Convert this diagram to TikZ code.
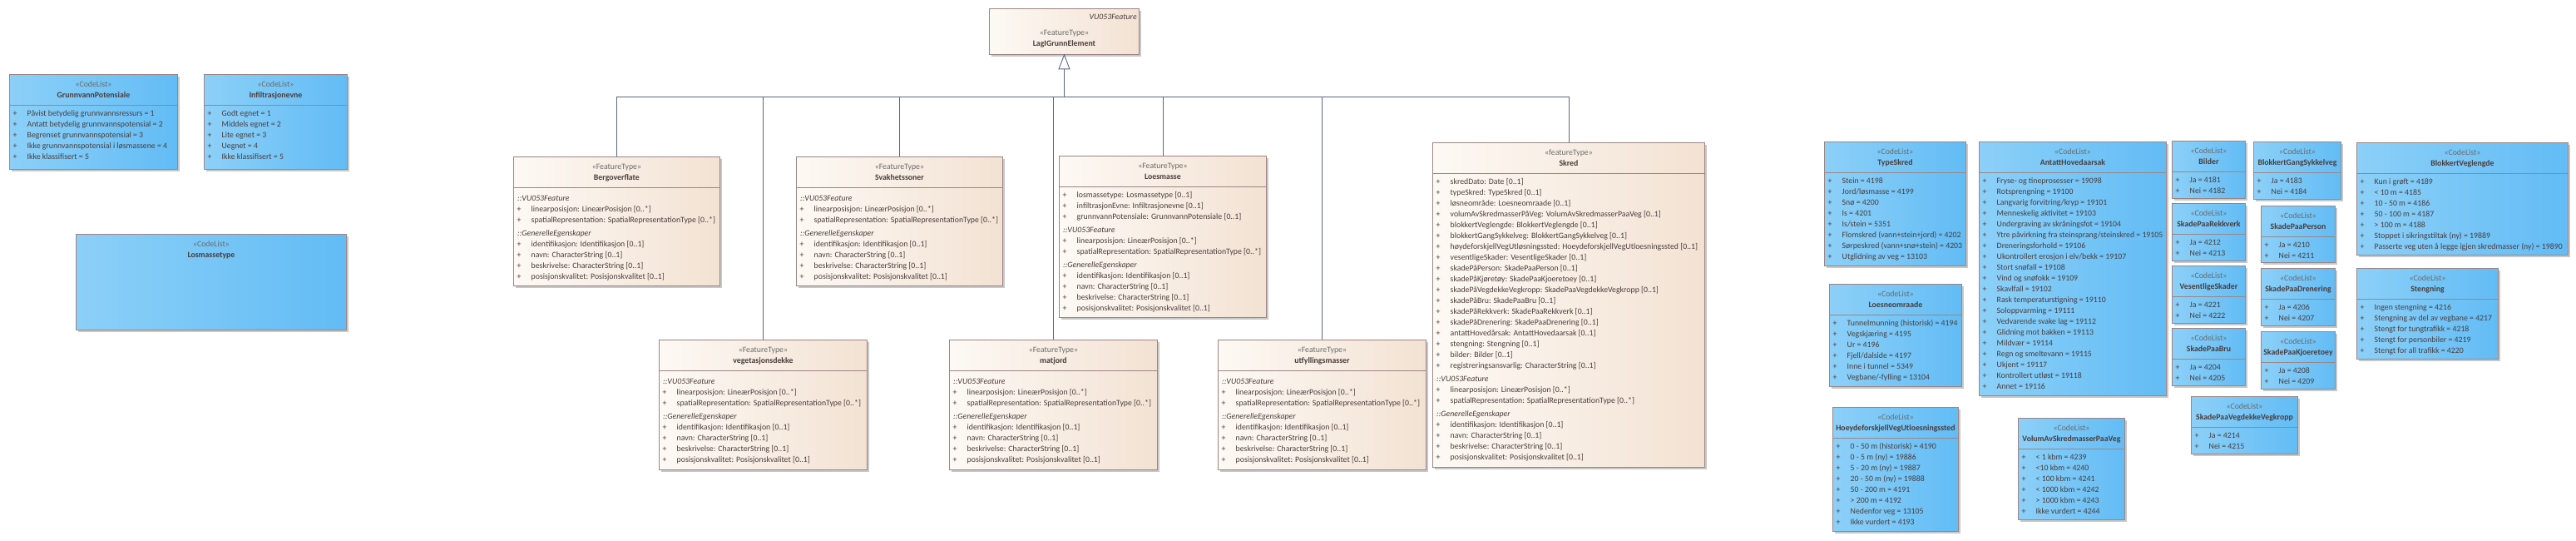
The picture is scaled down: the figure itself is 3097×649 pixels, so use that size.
\documentclass[tikz,border=0pt]{standalone}
\usepackage{fontspec}
\setmainfont{Carlito}
\usetikzlibrary{shadows}
\definecolor{ftL}{HTML}{FDF9F4}
\definecolor{ftR}{HTML}{F3E2D3}
\definecolor{clL}{HTML}{8CD0F8}
\definecolor{clR}{HTML}{62BCF5}
\definecolor{bord}{HTML}{9C8585}
\definecolor{conn}{HTML}{5A6785}
\definecolor{txt}{HTML}{4A3C3C}
\definecolor{stereo}{HTML}{6A6A6A}
\definecolor{shad}{HTML}{C8C8C8}
\tikzset{
  boxbase/.style={draw=bord, line width=0.9pt, inner sep=0pt,
    general shadow={fill=shad, shadow xshift=3pt, shadow yshift=-3pt}},
  ftbox/.style={boxbase, left color=ftL, right color=ftR},
  clbox/.style={boxbase, left color=clL, right color=clR},
  sttext/.style={inner sep=0pt, text=stereo, font=\fontsize{9.8}{13}\selectfont},
  nmtext/.style={inner sep=0pt, text=txt, font=\fontsize{9.8}{13}\selectfont\bfseries},
  attrtext/.style={inner sep=0pt, text=txt, font=\fontsize{9.8}{13}\selectfont},
  sepline/.style={draw=bord, line width=0.9pt},
  genline/.style={draw=conn, line width=0.9pt},
}
\newcommand{\umlhead}[8]{%
  \node[#6, anchor=north west, minimum width=#4pt, minimum height=#5pt] (#1) at (#2,#3) {};
  \node[sttext, anchor=base] (#1-st) at ([yshift=-15.5pt]#1.north) {«#7»};
  \node[nmtext, anchor=base] (#1-nm) at ([yshift=-28.5pt]#1.north) {#8};
}
\newcommand{\umlclass}[8]{%
  \umlhead{#1}{#2}{#3}{#4}{#5}{#6}{#7}{#8}
  \draw[sepline] ([yshift=-37pt]#1.north west) -- ([yshift=-37pt]#1.north east);
}
\newcommand{\umlattrs}[2]{%
  \node[attrtext, anchor=north west] (#1-at) at ([xshift=4.5pt,yshift=-41pt]#1.north west)
    {\begin{tabular}{@{}l@{}l@{}}#2\end{tabular}};
}
\newcommand{\umlatt}[1]{\makebox[17pt][l]{+}&#1\\}
\newcommand{\umlsec}[1]{\multicolumn{2}{@{}l@{}}{\rule{0pt}{12pt}\hspace{0.5pt}\textit{#1}}\\}
\newcommand{\ftcommon}{\umlsec{::VU053Feature}%
  \umlatt{linearposisjon: LineærPosisjon [0..*]}%
  \umlatt{spatialRepresentation: SpatialRepresentationType [0..*]}%
  \umlsec{::GenerelleEgenskaper}%
  \umlatt{identifikasjon: Identifikasjon [0..1]}%
  \umlatt{navn: CharacterString [0..1]}%
  \umlatt{beskrivelse: CharacterString [0..1]}%
  \umlatt{posisjonskvalitet: Posisjonskvalitet [0..1]}}
\newcommand{\janei}[2]{\umlatt{Ja = #1}\umlatt{Nei = #2}}

\begin{document}
\begin{tikzpicture}[x=1pt,y=-1pt]
\useasboundingbox (0,0) rectangle (3097,649);
\fill[white] (0,0) rectangle (3097,649);

% ---------- left code lists
\umlclass{gp}{11}{89}{202}{114}{clbox}{CodeList}{GrunnvannPotensiale}
\umlattrs{gp}{\umlatt{Påvist betydelig grunnvannsressurs = 1}\umlatt{Antatt betydelig grunnvannspotensial = 2}\umlatt{Begrenset grunnvannspotensial = 3}\umlatt{Ikke grunnvannspotensial i løsmassene = 4}\umlatt{Ikke klassifisert = 5}}
\umlclass{ie}{245}{89}{172}{114}{clbox}{CodeList}{Infiltrasjonevne}
\umlattrs{ie}{\umlatt{Godt egnet = 1}\umlatt{Middels egnet = 2}\umlatt{Lite egnet = 3}\umlatt{Uegnet = 4}\umlatt{Ikke klassifisert = 5}}
\umlhead{lt}{91}{281}{325}{115}{clbox}{CodeList}{Losmassetype}

% ---------- super class
\node[ftbox, anchor=north west, minimum width=180pt, minimum height=55pt] (lag) at (1189,10) {};
\node[attrtext, anchor=base east] (lag-tag) at ([xshift=-3pt,yshift=-13pt]lag.north east) {\textit{VU053Feature}};
\node[sttext, anchor=base] (lag-st) at ([yshift=-32pt]lag.north) {«FeatureType»};
\node[nmtext, anchor=base] (lag-nm) at ([yshift=-45pt]lag.north) {LagIGrunnElement};

% ---------- feature types
\umlclass{berg}{617}{188}{248}{155}{ftbox}{FeatureType}{Bergoverflate}
\umlattrs{berg}{\ftcommon}
\umlclass{svak}{957}{188}{248}{155}{ftbox}{FeatureType}{Svakhetssoner}
\umlattrs{svak}{\ftcommon}
\umlclass{loes}{1273}{187}{249}{194}{ftbox}{FeatureType}{Loesmasse}
\umlattrs{loes}{\umlatt{losmassetype: Losmassetype [0..1]}\umlatt{infiltrasjonEvne: Infiltrasjonevne [0..1]}\umlatt{grunnvannPotensiale: GrunnvannPotensiale [0..1]}\ftcommon}
\umlclass{skred}{1722}{171}{327}{390}{ftbox}{featureType}{Skred}
\umlattrs{skred}{\umlatt{skredDato: Date [0..1]}\umlatt{typeSkred: TypeSkred [0..1]}\umlatt{løsneområde: Loesneomraade [0..1]}\umlatt{volumAvSkredmasserPåVeg: VolumAvSkredmasserPaaVeg [0..1]}\umlatt{blokkertVeglengde: BlokkertVeglengde [0..1]}\umlatt{blokkertGangSykkelveg: BlokkertGangSykkelveg [0..1]}\umlatt{høydeforskjellVegUtløsningssted: HoeydeforskjellVegUtloesningssted [0..1]}\umlatt{vesentligeSkader: VesentligeSkader [0..1]}\umlatt{skadePåPerson: SkadePaaPerson [0..1]}\umlatt{skadePåKjøretøy: SkadePaaKjoeretoey [0..1]}\umlatt{skadePåVegdekkeVegkropp: SkadePaaVegdekkeVegkropp [0..1]}\umlatt{skadePåBru: SkadePaaBru [0..1]}\umlatt{skadePåRekkverk: SkadePaaRekkverk [0..1]}\umlatt{skadePåDrenering: SkadePaaDrenering [0..1]}\umlatt{antattHovedårsak: AntattHovedaarsak [0..1]}\umlatt{stengning: Stengning [0..1]}\umlatt{bilder: Bilder [0..1]}\umlatt{registreringsansvarlig: CharacterString [0..1]}\ftcommon}
\umlclass{veg}{792}{408}{250}{156}{ftbox}{FeatureType}{vegetasjonsdekke}
\umlattrs{veg}{\ftcommon}
\umlclass{mat}{1141}{408}{250}{156}{ftbox}{FeatureType}{matjord}
\umlattrs{mat}{\ftcommon}
\umlclass{utf}{1464}{408}{250}{156}{ftbox}{FeatureType}{utfyllingsmasser}
\umlattrs{utf}{\ftcommon}

% ---------- generalization
\coordinate (tb) at ([yshift=-17pt]lag.south);
\coordinate (busy) at (0,116);
\foreach \c in {berg,veg,svak,mat,loes,utf,skred}{
  \draw[genline] (\c.north) -- (\c.north |- busy) -- (tb |- busy);
}
\draw[genline] (tb) -- (tb |- busy);
\draw[genline, fill=white] (lag.south) -- ([xshift=-6.5pt]tb) -- ([xshift=6.5pt]tb) -- cycle;

% ---------- right code lists
\umlclass{ts}{2193}{170}{170}{149}{clbox}{CodeList}{TypeSkred}
\umlattrs{ts}{\umlatt{Stein = 4198}\umlatt{Jord/løsmasse = 4199}\umlatt{Snø = 4200}\umlatt{Is = 4201}\umlatt{Is/stein = 5351}\umlatt{Flomskred (vann+stein+jord) = 4202}\umlatt{Sørpeskred (vann+snø+stein) = 4203}\umlatt{Utglidning av veg = 13103}}
\umlclass{lo}{2199}{341}{159}{123}{clbox}{CodeList}{Loesneomraade}
\umlattrs{lo}{\umlatt{Tunnelmunning (historisk) = 4194}\umlatt{Vegskjæring = 4195}\umlatt{Ur = 4196}\umlatt{Fjell/dalside = 4197}\umlatt{Inne i tunnel = 5349}\umlatt{Vegbane/-fylling = 13104}}
\umlclass{ah}{2379}{170}{225}{305}{clbox}{CodeList}{AntattHovedaarsak}
\umlattrs{ah}{\umlatt{Fryse- og tineprosesser = 19098}\umlatt{Rotsprengning = 19100}\umlatt{Langvarig forvitring/kryp = 19101}\umlatt{Menneskelig aktivitet = 19103}\umlatt{Undergraving av skråningsfot = 19104}\umlatt{Ytre påvirkning fra steinsprang/steinskred = 19105}\umlatt{Dreneringsforhold = 19106}\umlatt{Ukontrollert erosjon i elv/bekk = 19107}\umlatt{Stort snøfall = 19108}\umlatt{Vind og snøfokk = 19109}\umlatt{Skavlfall = 19102}\umlatt{Rask temperaturstigning = 19110}\umlatt{Soloppvarming = 19111}\umlatt{Vedvarende svake lag = 19112}\umlatt{Glidning mot bakken = 19113}\umlatt{Mildvær = 19114}\umlatt{Regn og smeltevann = 19115}\umlatt{Ukjent = 19117}\umlatt{Kontrollert utløst = 19118}\umlatt{Annet = 19116}}
\umlclass{bi}{2611}{169}{88}{69}{clbox}{CodeList}{Bilder}
\umlattrs{bi}{\janei{4181}{4182}}
\umlclass{bgs}{2709}{170}{105}{69}{clbox}{CodeList}{BlokkertGangSykkelveg}
\umlattrs{bgs}{\janei{4183}{4184}}
\umlclass{spr}{2611}{244}{88}{69}{clbox}{CodeList}{SkadePaaRekkverk}
\umlattrs{spr}{\janei{4212}{4213}}
\umlclass{spp}{2718}{247}{89}{68}{clbox}{CodeList}{SkadePaaPerson}
\umlattrs{spp}{\janei{4210}{4211}}
\umlclass{vs}{2611}{319}{88}{69}{clbox}{CodeList}{VesentligeSkader}
\umlattrs{vs}{\janei{4221}{4222}}
\umlclass{spd}{2718}{322}{89}{69}{clbox}{CodeList}{SkadePaaDrenering}
\umlattrs{spd}{\janei{4206}{4207}}
\umlclass{spb}{2611}{394}{88}{69}{clbox}{CodeList}{SkadePaaBru}
\umlattrs{spb}{\janei{4204}{4205}}
\umlclass{spk}{2718}{398}{89}{69}{clbox}{CodeList}{SkadePaaKjoeretoey}
\umlattrs{spk}{\janei{4208}{4209}}
\umlclass{spv}{2634}{476}{128}{69}{clbox}{CodeList}{SkadePaaVegdekkeVegkropp}
\umlattrs{spv}{\janei{4214}{4215}}
\umlclass{bv}{2833}{171}{254}{135}{clbox}{CodeList}{BlokkertVeglengde}
\umlattrs{bv}{\umlatt{Kun i grøft = 4189}\umlatt{< 10 m = 4185}\umlatt{10 - 50 m = 4186}\umlatt{50 - 100 m = 4187}\umlatt{> 100 m = 4188}\umlatt{Stoppet i sikringstiltak (ny) = 19889}\umlatt{Passerte veg uten å legge igjen skredmasser (ny) = 19890}}
\umlclass{st}{2833}{322}{170}{109}{clbox}{CodeList}{Stengning}
\umlattrs{st}{\umlatt{Ingen stengning = 4216}\umlatt{Stengning av del av vegbane = 4217}\umlatt{Stengt for tungtrafikk = 4218}\umlatt{Stengt for personbiler = 4219}\umlatt{Stengt for all trafikk = 4220}}
\umlclass{hf}{2203}{489}{151}{149}{clbox}{CodeList}{HoeydeforskjellVegUtloesningssted}
\umlattrs{hf}{\umlatt{0 - 50 m (historisk) = 4190}\umlatt{0 - 5 m (ny) = 19886}\umlatt{5 - 20 m (ny) = 19887}\umlatt{20 - 50 m (ny) = 19888}\umlatt{50 - 200 m = 4191}\umlatt{> 200 m = 4192}\umlatt{Nedenfor veg = 13105}\umlatt{Ikke vurdert = 4193}}
\umlclass{va}{2426}{502}{128}{122}{clbox}{CodeList}{VolumAvSkredmasserPaaVeg}
\umlattrs{va}{\umlatt{< 1 kbm = 4239}\umlatt{<10 kbm = 4240}\umlatt{< 100 kbm = 4241}\umlatt{< 1000 kbm = 4242}\umlatt{> 1000 kbm = 4243}\umlatt{Ikke vurdert = 4244}}
\end{tikzpicture}
\end{document}
